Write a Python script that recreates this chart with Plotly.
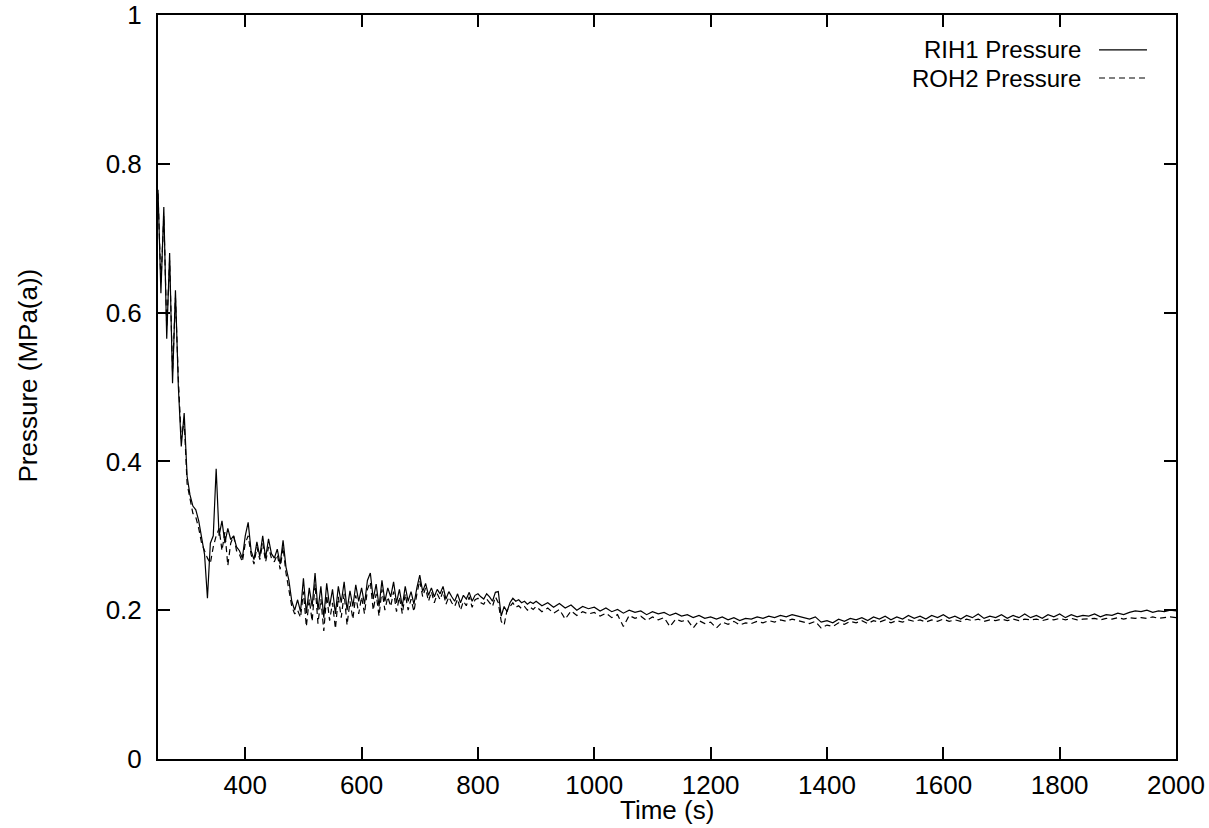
import plotly.graph_objects as go

# Sampling grid (s)
time = list(range(250, 900, 5)) + [900] + list(range(910, 2001, 10))

rih1 = [
    0.765, 0.626, 0.742, 0.565, 0.680, 0.505, 0.630, 0.500, 0.420, 0.465,
    0.380, 0.355, 0.340, 0.335, 0.320, 0.300, 0.275, 0.216, 0.290, 0.300,
    0.390, 0.300, 0.320, 0.290, 0.310, 0.295, 0.300, 0.285, 0.280, 0.270,
    0.300, 0.318, 0.280, 0.268, 0.292, 0.272, 0.300, 0.270, 0.296, 0.276,
    0.270, 0.282, 0.262, 0.294, 0.258, 0.240, 0.212, 0.200, 0.214, 0.198,
    0.243, 0.196, 0.230, 0.205, 0.250, 0.200, 0.232, 0.190, 0.236, 0.205,
    0.228, 0.195, 0.232, 0.210, 0.238, 0.200, 0.226, 0.205, 0.234, 0.212,
    0.230, 0.208, 0.240, 0.250, 0.215, 0.235, 0.205, 0.240, 0.212, 0.230,
    0.218, 0.238, 0.210, 0.228, 0.205, 0.232, 0.212, 0.225, 0.208, 0.230,
    0.247, 0.225, 0.236, 0.220, 0.230, 0.218, 0.228, 0.222, 0.232, 0.215,
    0.225, 0.218, 0.212, 0.222, 0.210, 0.220, 0.215, 0.224, 0.212, 0.220,
    0.222, 0.218, 0.215, 0.222, 0.218, 0.212, 0.224, 0.225, 0.192, 0.205,
    0.198, 0.210, 0.216, 0.212, 0.214, 0.210, 0.212, 0.208, 0.211, 0.209,
    0.212,
    0.206, 0.210, 0.204, 0.209, 0.203, 0.207, 0.200, 0.205, 0.202, 0.204,
    0.199, 0.203, 0.198, 0.201, 0.196, 0.200, 0.197, 0.199, 0.194, 0.198,
    0.195, 0.197, 0.193, 0.196, 0.192, 0.194, 0.190, 0.193, 0.189, 0.191,
    0.188, 0.191, 0.187, 0.190, 0.186, 0.189, 0.188, 0.191, 0.189, 0.192,
    0.190, 0.193, 0.191, 0.194, 0.192, 0.190, 0.188, 0.191, 0.184, 0.186,
    0.183, 0.188, 0.185, 0.189, 0.187, 0.190, 0.186, 0.191, 0.188, 0.192,
    0.187, 0.191, 0.188, 0.193, 0.189, 0.192, 0.188, 0.193, 0.190, 0.194,
    0.189, 0.192, 0.188, 0.193, 0.190, 0.195, 0.189, 0.192, 0.190, 0.194,
    0.189, 0.193, 0.190, 0.195, 0.190, 0.193, 0.189, 0.194, 0.191, 0.195,
    0.190, 0.194, 0.191, 0.193, 0.192, 0.195, 0.191, 0.194, 0.193, 0.196,
    0.194, 0.197, 0.199, 0.198, 0.200, 0.197, 0.199, 0.198, 0.200, 0.199,
]

roh2 = [
    0.760, 0.640, 0.730, 0.580, 0.670, 0.520, 0.620, 0.510, 0.430, 0.455,
    0.370, 0.350, 0.330, 0.325, 0.310, 0.290, 0.280, 0.270, 0.263, 0.285,
    0.300, 0.310, 0.280, 0.305, 0.260, 0.290, 0.300, 0.280, 0.275, 0.265,
    0.290, 0.300, 0.275, 0.262, 0.285, 0.268, 0.290, 0.265, 0.285, 0.270,
    0.265, 0.275, 0.255, 0.285, 0.250, 0.230, 0.205, 0.195, 0.200, 0.190,
    0.225, 0.178, 0.215, 0.185, 0.235, 0.182, 0.215, 0.172, 0.220, 0.186,
    0.210, 0.175, 0.218, 0.190, 0.222, 0.180, 0.212, 0.188, 0.220, 0.195,
    0.218, 0.195, 0.228, 0.238, 0.200, 0.222, 0.192, 0.228, 0.200, 0.218,
    0.205, 0.225, 0.198, 0.218, 0.195, 0.222, 0.200, 0.215, 0.198, 0.222,
    0.240, 0.218, 0.230, 0.212, 0.225, 0.210, 0.222, 0.214, 0.226, 0.208,
    0.218, 0.210, 0.205, 0.215, 0.200, 0.212, 0.206, 0.218, 0.204, 0.214,
    0.216, 0.210, 0.208, 0.215, 0.210, 0.205, 0.218, 0.210, 0.185, 0.180,
    0.200, 0.205, 0.210, 0.204, 0.206, 0.202, 0.205, 0.200, 0.204, 0.201,
    0.205,
    0.198, 0.203, 0.196, 0.201, 0.188, 0.199, 0.193, 0.198, 0.195, 0.197,
    0.192, 0.196, 0.190, 0.194, 0.178, 0.193, 0.189, 0.192, 0.186, 0.191,
    0.187, 0.190, 0.178, 0.188, 0.185, 0.187, 0.176, 0.186, 0.182, 0.184,
    0.176, 0.184, 0.181, 0.185, 0.180, 0.183, 0.182, 0.185, 0.183, 0.186,
    0.184, 0.187, 0.185, 0.188, 0.186, 0.184, 0.182, 0.185, 0.176, 0.180,
    0.178, 0.183, 0.181, 0.185, 0.183, 0.186, 0.182, 0.186, 0.184, 0.187,
    0.183, 0.186, 0.184, 0.187, 0.185, 0.187, 0.184, 0.187, 0.185, 0.188,
    0.185, 0.187, 0.185, 0.188, 0.186, 0.188, 0.185, 0.187, 0.186, 0.188,
    0.186, 0.188, 0.186, 0.188, 0.187, 0.188, 0.186, 0.188, 0.187, 0.189,
    0.187, 0.189, 0.187, 0.188, 0.188, 0.189, 0.187, 0.189, 0.188, 0.190,
    0.188, 0.190, 0.189, 0.190, 0.189, 0.191, 0.189, 0.190, 0.191, 0.190,
]

series_names = ["RIH1 Pressure", "ROH2 Pressure"]
x_ticks = [400, 600, 800, 1000, 1200, 1400, 1600, 1800, 2000]
y_ticks = [0, 0.2, 0.4, 0.6, 0.8, 1]
y_tick_labels = ["0", "0.2", "0.4", "0.6", "0.8", "1"]

FONT = "Liberation Sans, Arial, Helvetica, sans-serif"
FS = 26
KEY_FS = 24

fig = go.Figure()
fig.add_trace(go.Scatter(x=time, y=rih1, mode="lines", name=series_names[0],
                         line=dict(color="black", width=1.2), showlegend=False))
fig.add_trace(go.Scatter(x=time, y=roh2, mode="lines", name=series_names[1],
                         line=dict(color="black", width=1.2, dash="6px,4px"),
                         showlegend=False))

axis_common = dict(showline=True, linecolor="black", linewidth=2, mirror="ticks",
                   ticks="inside", ticklen=12, tickwidth=1.5, tickcolor="black",
                   showgrid=False, zeroline=False, automargin=False,
                   tickfont=dict(family=FONT, size=FS, color="black"))

fig.update_xaxes(range=[250, 2000], tickvals=x_ticks, ticklabelstandoff=2, **axis_common)
fig.update_yaxes(range=[0, 1], tickvals=y_ticks, ticktext=y_tick_labels,
                 ticklabelstandoff=9, **axis_common)

# axis titles
fig.add_annotation(text="Time (s)", xref="paper", yref="paper", x=0.5, y=-0.068,
                   showarrow=False, font=dict(family=FONT, size=FS, color="black"),
                   xanchor="center", yanchor="middle")
fig.add_annotation(text="Pressure (MPa(a))", xref="paper", yref="paper", x=-0.128, y=0.515,
                   showarrow=False, textangle=-90,
                   font=dict(family=FONT, size=FS, color="black"),
                   xanchor="center", yanchor="middle")

# key (text right-aligned, sample line on the right)
key_rows = [(0.953, "solid"), (0.9153, "6px,4px")]
for name, (yy, dash) in zip(series_names, key_rows):
    fig.add_annotation(text=name, xref="paper", yref="paper", x=0.9077, y=yy,
                       showarrow=False, xanchor="right", yanchor="middle", borderpad=0,
                       font=dict(family=FONT, size=KEY_FS, color="black"))
    fig.add_shape(type="line", xref="paper", yref="paper", x0=0.9244, x1=0.9715,
                  y0=yy, y1=yy, line=dict(color="black", width=1.2, dash=dash))

fig.update_layout(width=1209, height=828,
                  margin=dict(l=158, r=33, t=15, b=69),
                  paper_bgcolor="white", plot_bgcolor="white",
                  font=dict(family=FONT, size=FS, color="black"))

fig.write_html("out.html")
